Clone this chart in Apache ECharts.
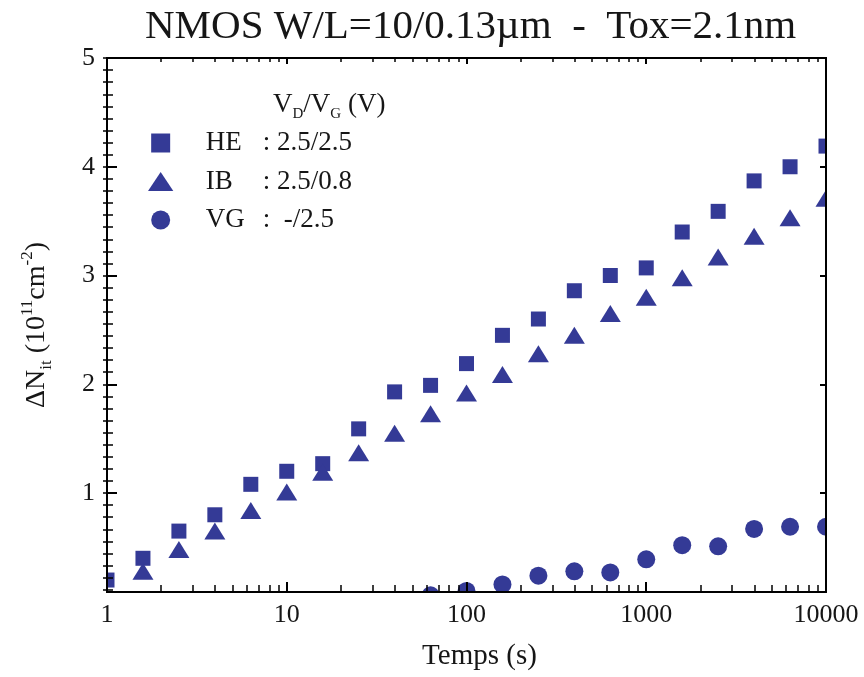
<!DOCTYPE html>
<html>
<head>
<meta charset="utf-8">
<script src="https://cdn.jsdelivr.net/npm/echarts@6/dist/echarts.min.js"></script>
<style>html,body{margin:0;padding:0;background:#fff}#c{width:864px;height:677px}</style>
</head>
<body>
<div id="c"></div>
<script>
// ---- data ----
const times = [1, 1.585, 2.512, 3.981, 6.31, 10, 15.85, 25.12, 39.81, 63.1, 100, 158.5, 251.2, 398.1, 631, 1000, 1585, 2512, 3981, 6310, 10000];
const heValues = [0.20, 0.40, 0.65, 0.80, 1.08, 1.20, 1.27, 1.59, 1.93, 1.99, 2.19, 2.45, 2.60, 2.86, 3.00, 3.07, 3.40, 3.59, 3.87, 4.00, 4.19];
const ibValues = [null, 0.28, 0.48, 0.65, 0.84, 1.01, 1.19, 1.37, 1.55, 1.73, 1.92, 2.09, 2.28, 2.45, 2.65, 2.80, 2.98, 3.17, 3.36, 3.53, 3.71];
const vgValues = [null, null, null, null, null, null, null, null, null, 0.06, 0.10, 0.16, 0.24, 0.28, 0.27, 0.39, 0.52, 0.51, 0.67, 0.69, 0.69];
const seriesNames = ['HE', 'IB', 'VG'];
const seriesConditions = [': 2.5/2.5', ': 2.5/0.8', ':  -/2.5'];
const yTickValues = [1, 2, 3, 4, 5];
const titleText = 'NMOS W/L=10/0.13\u00b5m  -  Tox=2.1nm';
const xAxisTitle = 'Temps (s)';

// ---- styling ----
const FONT = '"Liberation Serif", "Times New Roman", serif';
const INK = '#161616';
const BLUE = '#343a96';
const GRID = {left: 107, right: 38, top: 58, bottom: 85};
const Y_MIN = 0.09, Y_MAX = 5;

function pairs(vals) { return times.map((t, i) => [t, vals[i]]).filter(p => p[1] != null); }

// tick positions (minor: 9 subdivisions per unit on y, 2..9 per decade on x)
const yMinor = [];
for (let k = 0; k <= 45; k++) { const v = Y_MAX - k / 9; if (v >= Y_MIN - 1e-9) yMinor.push(+v.toFixed(6)); }
const xMinor = [];
for (let d = 0; d < 4; d++) for (let m = 2; m <= 9; m++) xMinor.push(+(Math.log10(m) + d).toFixed(6));

const line = {show: true, lineStyle: {color: '#000', width: 2}};
const noLabel = {show: false};
const tickStyle = w => ({color: '#000', width: w});

const chart = echarts.init(document.getElementById('c'), null, {renderer: 'canvas'});

const option = {
  backgroundColor: '#fff',
  animation: false,
  title: [
    {text: titleText, left: 145, top: 7, padding: 0, z: 10,
     textStyle: {fontFamily: FONT, fontSize: 41, fontWeight: 'normal', color: INK}},
    {text: '{v|V}{s|D}{v|/V}{s|G}{v| (V)}', left: 273, top: 88, padding: 0, z: 10,
     textStyle: {fontWeight: 'normal', rich: {
       v: {fontFamily: FONT, fontSize: 27, fontWeight: 'normal', color: INK, lineHeight: 34, verticalAlign: 'middle'},
       s: {fontFamily: FONT, fontSize: 15, fontWeight: 'normal', color: INK, lineHeight: 15, verticalAlign: 'bottom'}
     }}}
  ],
  legend: {
    orient: 'vertical', left: 148, top: 128, padding: 0,
    itemWidth: 80, itemHeight: 19, itemGap: 8.5, selectedMode: false,
    data: [
      {name: 'HE', icon: 'path://M0,0L18,0L18,18L0,18Z'},
      {name: 'IB', icon: 'path://M0,18L12,0L24,18Z'},
      {name: 'VG', icon: 'circle'}
    ],
    itemStyle: {opacity: 1},
    formatter: name => '{a|' + name + '}{b|' + seriesConditions[seriesNames.indexOf(name)] + '}',
    textStyle: {fontFamily: FONT, fontSize: 27, color: INK, lineHeight: 30,
      rich: {
        a: {fontFamily: FONT, fontSize: 27, color: INK, lineHeight: 30, width: 57},
        b: {fontFamily: FONT, fontSize: 27, color: INK, lineHeight: 30}
      }}
  },
  grid: [
    Object.assign({}, GRID),
    Object.assign({}, GRID)
  ],
  xAxis: [
    {type: 'log', gridIndex: 0, position: 'bottom', min: 1, max: 10000, logBase: 10, z: 8,
     axisLine: line, splitLine: {show: false},
     axisTick: {inside: true, length: 10, lineStyle: tickStyle(2)},
     axisLabel: {formatter: v => String(Math.round(v)), fontFamily: FONT, fontSize: 26, color: INK, margin: 10},
     name: xAxisTitle, nameLocation: 'middle', nameGap: 50,
     nameTextStyle: {fontFamily: FONT, fontSize: 29, color: INK, padding: [0, 0, 0, 26]}},
    {type: 'log', gridIndex: 0, position: 'top', min: 1, max: 10000, logBase: 10, z: 8,
     axisLine: line, splitLine: {show: false},
     axisTick: {inside: true, length: 6, lineStyle: tickStyle(2)}, axisLabel: noLabel},
    {type: 'value', gridIndex: 1, position: 'bottom', min: 0, max: 4, z: 8,
     axisLine: line, splitLine: {show: false}, axisLabel: noLabel,
     axisTick: {show: true, inside: true, length: 7, customValues: xMinor, lineStyle: tickStyle(1.5)}},
    {type: 'value', gridIndex: 1, position: 'top', min: 0, max: 4, z: 8,
     axisLine: line, splitLine: {show: false}, axisLabel: noLabel,
     axisTick: {show: true, inside: true, length: 4, customValues: xMinor, lineStyle: tickStyle(1.5)}}
  ],
  yAxis: [
    {type: 'value', gridIndex: 0, position: 'left', min: Y_MIN, max: Y_MAX, z: 8,
     axisLine: line, splitLine: {show: false},
     axisTick: {inside: true, length: 10, customValues: yTickValues, lineStyle: tickStyle(2)},
     axisLabel: {customValues: yTickValues, fontFamily: FONT, fontSize: 26, color: INK, margin: 12},
     name: '{n|\u0394N}{sub|it}{n| (10}{sup|11}{n|cm}{sup|-2}{n|)}',
     nameLocation: 'middle', nameGap: 52,
     nameTextStyle: {rich: {
       n: {fontFamily: FONT, fontSize: 28, color: INK, lineHeight: 36, verticalAlign: 'middle'},
       sub: {fontFamily: FONT, fontSize: 17, color: INK, lineHeight: 17, verticalAlign: 'bottom'},
       sup: {fontFamily: FONT, fontSize: 17, color: INK, lineHeight: 14, verticalAlign: 'top'}
     }}},
    {type: 'value', gridIndex: 0, position: 'right', min: Y_MIN, max: Y_MAX, z: 8,
     axisLine: line, splitLine: {show: false}, axisLabel: noLabel,
     axisTick: {inside: true, length: 6, customValues: yTickValues, lineStyle: tickStyle(2)}},
    {type: 'value', gridIndex: 1, position: 'left', min: Y_MIN, max: Y_MAX, z: 8,
     axisLine: line, splitLine: {show: false}, axisLabel: noLabel,
     axisTick: {show: true, inside: true, length: 6, customValues: yMinor, lineStyle: tickStyle(1.5)}},
    {type: 'value', gridIndex: 1, position: 'right', min: Y_MIN, max: Y_MAX, z: 8,
     axisLine: line, splitLine: {show: false}, axisLabel: noLabel,
     axisTick: {show: true, inside: true, length: 4, customValues: yMinor, lineStyle: tickStyle(1.5)}}
  ],
  // white masks outside the plot frame so markers are cut at the frame like the original
  graphic: [
    {type: 'rect', z: 5, silent: true, shape: {x: 0, y: 0, width: GRID.left - 1, height: 677}, style: {fill: '#fff'}},
    {type: 'rect', z: 5, silent: true, shape: {x: 864 - GRID.right + 1, y: 0, width: GRID.right, height: 677}, style: {fill: '#fff'}},
    {type: 'rect', z: 5, silent: true, shape: {x: 0, y: 0, width: 864, height: GRID.top - 1}, style: {fill: '#fff'}},
    {type: 'rect', z: 5, silent: true, shape: {x: 0, y: 677 - GRID.bottom + 1, width: 864, height: GRID.bottom}, style: {fill: '#fff'}}
  ],
  series: [
    {name: seriesNames[0], type: 'scatter', xAxisIndex: 0, yAxisIndex: 0, clip: false, z: 2,
     symbol: 'rect', symbolSize: 15, itemStyle: {color: BLUE, opacity: 1}, data: pairs(heValues)},
    {name: seriesNames[1], type: 'scatter', xAxisIndex: 0, yAxisIndex: 0, clip: false, z: 2,
     symbol: 'triangle', symbolSize: [21, 17], itemStyle: {color: BLUE, opacity: 1}, data: pairs(ibValues)},
    {name: seriesNames[2], type: 'scatter', xAxisIndex: 0, yAxisIndex: 0, clip: false, z: 2,
     symbol: 'circle', symbolSize: 18, itemStyle: {color: BLUE, opacity: 1}, data: pairs(vgValues)},
    // empty series so the tick-only grid is laid out
    {type: 'scatter', xAxisIndex: 2, yAxisIndex: 2, data: [], silent: true}
  ]
};
chart.setOption(option);
</script>
</body>
</html>
